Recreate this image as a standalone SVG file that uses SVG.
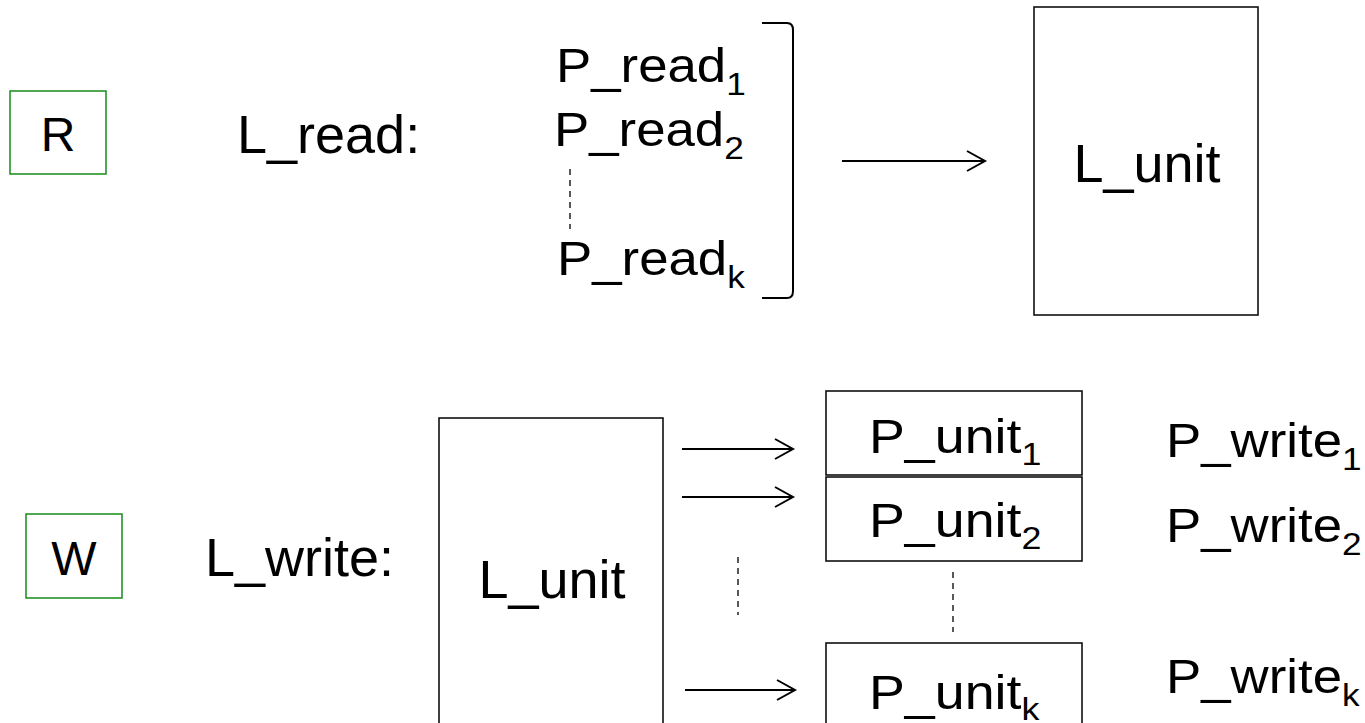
<svg xmlns="http://www.w3.org/2000/svg" width="1365" height="723" viewBox="0 0 1365 723">
<style>
text{font-family:"Liberation Sans",Arial,sans-serif;fill:#000}
.big{font-size:54px}
.mid{font-size:48px}
.sub{font-size:32px}
.box{fill:#fff;stroke:#000;stroke-width:1.5}
.gbox{fill:#fff;stroke:#1a8a1a;stroke-width:1.5}
.dash{stroke:#000;stroke-width:1.3;stroke-dasharray:6,5;fill:none}
.edge{stroke:#000;stroke-width:2;fill:none}
</style>
<defs>
<marker id="arr" markerUnits="userSpaceOnUse" markerWidth="24" markerHeight="26" refX="19" refY="11" orient="auto">
<path d="M1,1 L19,11 L1,21" fill="none" stroke="#000" stroke-width="2"/>
</marker>
</defs>
<rect width="1365" height="723" fill="#fff"/>

<g id="R">
<rect class="gbox" x="10" y="91" width="96" height="83"/>
<text class="mid" x="58" y="151" text-anchor="middle" font-size="50">R</text>
</g>
<g id="Lread">
<text class="big" x="237" y="153">L_read:</text>
</g>
<g id="Pread">
<text class="mid" transform="translate(556,82) scale(1.1,1)">P_read<tspan class="sub" dy="13">1</tspan></text>
<text class="mid" transform="translate(554,146) scale(1.1,1)">P_read<tspan class="sub" dy="13">2</tspan></text>
<text class="mid" transform="translate(557,275) scale(1.1,1)">P_read<tspan class="sub" dy="13">k</tspan></text>
<line class="dash" x1="570" y1="169" x2="570" y2="229"/>
<path d="M762,23 L787,23 Q793,23 793,30 L793,291 Q793,298 787,298 L762,298" fill="none" stroke="#000" stroke-width="2"/>
</g>
<g id="Lunit_top">
<rect class="box" x="1034" y="7" width="224" height="308"/>
<text class="big" x="1147" y="182" text-anchor="middle">L_unit</text>
</g>

<g id="W">
<rect class="gbox" x="26" y="514" width="96" height="84"/>
<text class="mid" x="74" y="575" text-anchor="middle" font-size="50">W</text>
</g>
<g id="Lwrite">
<text class="big" x="205" y="576">L_write:</text>
</g>
<g id="Lunit_bottom">
<rect class="box" x="439" y="418" width="224" height="320"/>
<text class="big" x="552" y="598" text-anchor="middle">L_unit</text>
</g>
<g id="Punit1">
<rect class="box" x="826" y="391" width="256" height="84"/>
<text class="mid" transform="translate(869,453) scale(1.12,1)">P_unit<tspan class="sub" dy="12">1</tspan></text>
</g>
<g id="Punit2">
<rect class="box" x="826" y="477" width="256" height="84"/>
<text class="mid" transform="translate(869,537) scale(1.12,1)">P_unit<tspan class="sub" dy="12">2</tspan></text>
</g>
<g id="Punitk">
<rect class="box" x="826" y="643" width="256" height="100"/>
<text class="mid" transform="translate(869,709) scale(1.12,1)">P_unit<tspan class="sub" dy="11">k</tspan></text>
</g>
<g id="Pwrite">
<text class="mid" transform="translate(1166,457) scale(1.1,1)">P_write<tspan class="sub" dy="13">1</tspan></text>
<text class="mid" transform="translate(1166,542) scale(1.1,1)">P_write<tspan class="sub" dy="13">2</tspan></text>
<text class="mid" transform="translate(1166,693) scale(1.1,1)">P_write<tspan class="sub" dy="13">k</tspan></text>
</g>

<g id="connectors">
<line class="edge" x1="842" y1="161" x2="985" y2="161" marker-end="url(#arr)"/>
<line class="edge" x1="682" y1="449" x2="793" y2="449" marker-end="url(#arr)"/>
<line class="edge" x1="682" y1="497" x2="793" y2="497" marker-end="url(#arr)"/>
<line class="edge" x1="685" y1="690" x2="795" y2="690" marker-end="url(#arr)"/>
<line class="dash" x1="738" y1="557" x2="738" y2="615"/>
<line class="dash" x1="953" y1="572" x2="953" y2="632"/>
</g>
</svg>
